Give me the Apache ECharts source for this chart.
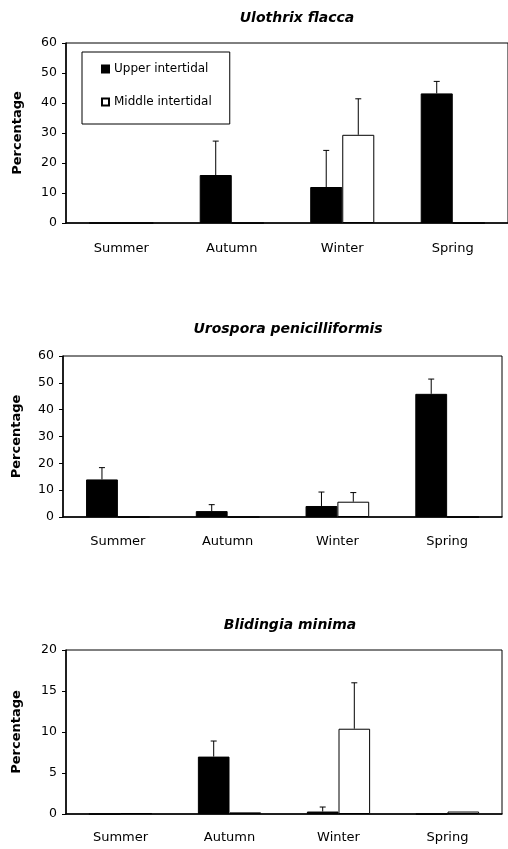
<!DOCTYPE html>
<html>
<head>
<meta charset="utf-8">
<script src="https://cdn.jsdelivr.net/npm/echarts@6/dist/echarts.min.js"></script>
<style>
  html, body { margin: 0; padding: 0; background: #fff; }
  #chart { width: 508px; height: 849px; }
</style>
</head>
<body>
<div id="chart"></div>
<script>
const seasons = ['Summer', 'Autumn', 'Winter', 'Spring']
const titles = ['Ulothrix flacca', 'Urospora penicilliformis', 'Blidingia minima']

// mean percentage and standard error, per panel
const ulothrixUpper = [0, 16, 12, 43.2]
const ulothrixUpperErr = [0, 11.3, 12.2, 4]
const ulothrixMiddle = [0, 0, 29.4, 0]
const ulothrixMiddleErr = [0, 0, 12, 0]

const urosporaUpper = [14, 2.2, 4.1, 45.9]
const urosporaUpperErr = [4.4, 2.4, 5.2, 5.5]
const urosporaMiddle = [0, 0, 5.7, 0]
const urosporaMiddleErr = [0, 0, 3.4, 0]

const blidingiaUpper = [0, 7, 0.3, 0]
const blidingiaUpperErr = [0, 1.9, 0.55, 0]
const blidingiaMiddle = [0.1, 0.2, 10.4, 0.3]
const blidingiaMiddleErr = [0, 0, 5.6, 0]

const yMax = [60, 60, 20]
const yStep = [10, 10, 5]

const panels = [
  { upper: ulothrixUpper, upperErr: ulothrixUpperErr, middle: ulothrixMiddle, middleErr: ulothrixMiddleErr },
  { upper: urosporaUpper, upperErr: urosporaUpperErr, middle: urosporaMiddle, middleErr: urosporaMiddleErr },
  { upper: blidingiaUpper, upperErr: blidingiaUpperErr, middle: blidingiaMiddle, middleErr: blidingiaMiddleErr }
]

const font = 'DejaVu Sans'
const grids = [
  { left: 66, top: 43, right: 0, height: 180 },
  { left: 63, top: 356, right: 6, height: 161 },
  { left: 66, top: 650, right: 6, height: 164 }
]
const titlePos = [{ x: 297, y: 11 }, { x: 288, y: 322 }, { x: 290, y: 618 }]
const labelMargin = [19, 18, 17]
const nameGap = [42, 40, 43]
const HALF = 0.145

function errorSeries(i, means, errs, offset) {
  const data = []
  means.forEach((m, k) => { if (errs[k] > 0) data.push([k, m, errs[k]]) })
  return {
    type: 'custom',
    xAxisIndex: i,
    yAxisIndex: i,
    z: 5,
    silent: true,
    data,
    renderItem(params, api) {
      const k = api.value(0)
      const base = api.coord([k, api.value(1)])
      const top = api.coord([k, api.value(1) + api.value(2)])
      const w = api.size([1, 0])[0]
      const x = base[0] + offset * w
      const style = { stroke: '#000', lineWidth: 1 }
      return {
        type: 'group',
        children: [
          { type: 'line', shape: { x1: x, y1: base[1], x2: x, y2: top[1] }, style },
          { type: 'line', shape: { x1: x - 3, y1: top[1], x2: x + 3, y2: top[1] }, style }
        ]
      }
    }
  }
}

const series = []
panels.forEach((p, i) => {
  series.push({
    name: 'Upper intertidal', type: 'bar', xAxisIndex: i, yAxisIndex: i,
    data: p.upper, barWidth: '29%', barGap: '0%',
    itemStyle: { color: '#000', borderColor: '#000', borderWidth: 1 }
  })
  series.push({
    name: 'Middle intertidal', type: 'bar', xAxisIndex: i, yAxisIndex: i,
    data: p.middle, barWidth: '29%', barGap: '0%',
    itemStyle: { color: '#fff', borderColor: '#000', borderWidth: 1 }
  })
  series.push(errorSeries(i, p.upper, p.upperErr, -HALF))
  series.push(errorSeries(i, p.middle, p.middleErr, HALF))
})

const chart = echarts.init(document.getElementById('chart'))
chart.setOption({
  animation: false,
  backgroundColor: '#fff',
  title: titles.map((t, i) => ({
    text: t, left: titlePos[i].x, top: titlePos[i].y, textAlign: 'center', padding: 0,
    textStyle: { fontFamily: font, fontSize: 14, fontWeight: 'bold', fontStyle: 'italic', color: '#000' }
  })),
  legend: {
    data: ['Upper intertidal', 'Middle intertidal'],
    orient: 'vertical', left: 82, top: 52,
    padding: [11, 18, 16, 19], itemGap: 21,
    itemWidth: 7, itemHeight: 7, icon: 'rect',
    borderColor: '#000', borderWidth: 1, backgroundColor: '#fff',
    selectedMode: false,
    textStyle: { fontFamily: font, fontSize: 12, color: '#000' }
  },
  grid: grids.map(g => ({ ...g, show: true, borderColor: '#000', borderWidth: 1 })),
  xAxis: grids.map((g, i) => ({
    type: 'category', gridIndex: i, data: seasons,
    axisLine: { lineStyle: { color: '#000', width: 1.5 } },
    axisTick: { length: 3, lineStyle: { color: '#000' } },
    axisLabel: { margin: labelMargin[i], color: '#000', fontFamily: font, fontSize: 13 }
  })),
  yAxis: grids.map((g, i) => ({
    type: 'value', gridIndex: i, min: 0, max: yMax[i], interval: yStep[i],
    name: 'Percentage', nameLocation: 'middle', nameGap: nameGap[i], nameRotate: 90,
    nameTextStyle: { fontFamily: font, fontSize: 13, fontWeight: 'bold', color: '#000' },
    axisLine: { show: true, lineStyle: { color: '#000', width: 1.5 } },
    axisTick: { show: true, length: 4, lineStyle: { color: '#000' } },
    axisLabel: { margin: 9, color: '#000', fontFamily: font, fontSize: 12.5 },
    splitLine: { show: false }
  })),
  series
})
</script>
</body>
</html>
